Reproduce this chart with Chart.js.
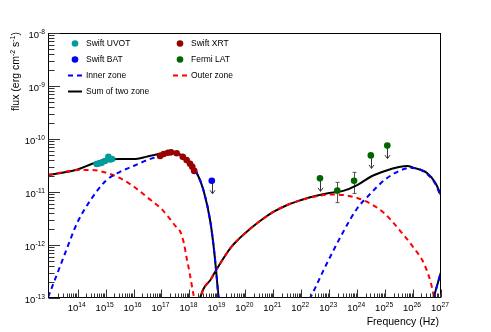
<!DOCTYPE html>
<html>
<head>
<meta charset="utf-8">
<script src="https://cdn.jsdelivr.net/npm/chart.js@4.4.0/dist/chart.umd.min.js"></script>
<style>
  html, body { margin: 0; padding: 0; background: #fff; }
</style>
</head>
<body>
<canvas id="sed" width="491" height="332"></canvas>
<script>
// axis ranges and tick labels
const xRange = [8.7e12, 1e27];
const yRange = [1e-13, 1e-8];
const xTickExps = [14, 15, 16, 17, 18, 19, 20, 21, 22, 23, 24, 25, 26, 27];
const yTickExps = [-13, -12, -11, -10, -9, -8];

// observed points
const uvotFreq = [4.8e14, 5.8e14, 7.2e14, 9.5e14, 1.26e15, 1.45e15, 1.7e15];
const uvotFlux = [3.37e-11, 3.45e-11, 3.55e-11, 3.85e-11, 4.63e-11, 4.1e-11, 4.2e-11];

const xrtFreq = [8.9e16, 1.2e17, 1.7e17, 2.2e17, 3.5e17, 5.75e17, 7.9e17, 1.05e18, 1.26e18, 1.48e18];
const xrtFlux = [4.8e-11, 5.2e-11, 5.5e-11, 5.6e-11, 5.4e-11, 4.6e-11, 4.0e-11, 3.4e-11, 3.0e-11, 2.5e-11];

const batFreq = [6.3e18];
const batFlux = [1.63e-11];
const batUL = [true];

const latFreq = [4.68e22, 1.95e23, 7.76e23, 3.09e24, 1.2e25];
const latFlux = [1.81e-11, 1.06e-11, 1.63e-11, 4.9e-11, 7.5e-11];
const latLo = [null, 6.3e-12, 9.4e-12, null, null];
const latHi = [null, 1.52e-11, 2.35e-11, null, null];
const latUL = [true, false, false, true, true];

// model curves
const innerSyncFreq = [8.71e12, 1e13, 3.16e13, 1e14, 3.16e14, 1e15, 3.16e15, 1e16, 3.16e16, 1e17, 1.78e17, 3.16e17, 5.62e17, 1e18, 1.78e18, 3.16e18, 5.62e18, 7.94e18, 1e19, 1.12e19];
const innerSyncFlux = [1.04e-13, 1.24e-13, 5.94e-13, 2.72e-12, 7.53e-12, 1.61e-11, 2.38e-11, 3.1e-11, 4.02e-11, 4.89e-11, 5.45e-11, 5.33e-11, 4.77e-11, 3.68e-11, 2.33e-11, 1.09e-11, 2.72e-12, 6.47e-13, 1.76e-13, 9e-14];
const innerICFreq = [2.0e22, 3.16e22, 6.31e22, 1e23, 3.16e23, 1e24, 3.16e24, 1e25, 3.16e25, 5.62e25, 1e26, 1.78e26, 3.16e26, 6.31e26, 1e27];
const innerICFlux = [9.6e-14, 1.55e-13, 3.37e-13, 5.5e-13, 1.76e-12, 4.89e-12, 9.57e-12, 1.72e-11, 2.49e-11, 2.78e-11, 2.84e-11, 2.66e-11, 2.19e-11, 1.42e-11, 8.05e-12];
const innerTailFreq = [5.4e26, 1e27];
const innerTailFlux = [1e-13, 3.1e-13];

const outerSyncFreq = [8.71e12, 3.16e13, 1e14, 3.16e14, 1e15, 3.16e15, 1e16, 3.16e16, 1e17, 1.78e17, 3.16e17, 4.57e17, 6.31e17, 7.94e17, 1e18, 1.26e18, 1.45e18, 1.6e18];
const outerSyncFlux = [2.09e-11, 2.38e-11, 2.6e-11, 2.6e-11, 2.33e-11, 1.84e-11, 1.27e-11, 7.87e-12, 4.78e-12, 3.37e-12, 2.28e-12, 1.84e-12, 1.09e-12, 5.69e-13, 3.1e-13, 1.55e-13, 1.0e-13, 6e-14];
const outerICFreq = [2.09e18, 3.16e18, 5.62e18, 1e19, 3.16e19, 1e20, 3.16e20, 1e21, 3.16e21, 1e22, 3.16e22, 1e23, 3.16e23, 1e24, 3.16e24, 1e25, 3.16e25, 1e26, 2.51e26, 5.01e26, 6.03e26];
const outerICFlux = [8e-14, 1.48e-13, 2.19e-13, 3.68e-13, 9.17e-13, 1.68e-12, 2.77e-12, 4.2e-12, 5.69e-12, 7.06e-12, 8.22e-12, 8.97e-12, 8.78e-12, 7.7e-12, 5.94e-12, 3.85e-12, 1.96e-12, 9.17e-13, 4.37e-13, 1.41e-13, 8e-14];

const sumSyncFreq = [8.71e12, 3.16e13, 1e14, 3.16e14, 1e15, 3.16e15, 1e16, 3.16e16, 1e17, 1.78e17, 3.16e17, 5.62e17, 1e18, 1.78e18, 3.16e18, 5.62e18, 7.94e18, 1e19, 1.12e19];
const sumSyncFlux = [2.09e-11, 2.33e-11, 2.66e-11, 3.37e-11, 4.1e-11, 4.2e-11, 4.2e-11, 4.68e-11, 5.32e-11, 5.61e-11, 5.45e-11, 4.89e-11, 3.76e-11, 2.38e-11, 1.09e-11, 2.72e-12, 6.47e-13, 1.76e-13, 9e-14];
const sumICFreq = [2.09e18, 3.16e18, 5.62e18, 1e19, 3.16e19, 1e20, 3.16e20, 1e21, 3.16e21, 1e22, 3.16e22, 1e23, 3.16e23, 1e24, 3.16e24, 1e25, 3.16e25, 6.31e25, 1e26, 3.16e26, 6.31e26, 1e27];
const sumICFlux = [8e-14, 1.48e-13, 2.19e-13, 3.68e-13, 9.17e-13, 1.68e-12, 2.77e-12, 4.2e-12, 5.69e-12, 7.06e-12, 8.4e-12, 9.57e-12, 1.05e-11, 1.35e-11, 1.96e-11, 2.49e-11, 2.96e-11, 3.1e-11, 2.88e-11, 2.28e-11, 1.48e-11, 8.78e-12];
const sumTailFreq = [5.4e26, 1e27];
const sumTailFlux = [1e-13, 3.1e-13];

const FONT = '"Liberation Sans", Arial, Helvetica, sans-serif';

// zip freq/flux into points; several branches are joined with a gap
const pts = (f, v) => f.map((x, i) => ({x: x, y: v[i]}));
const branches = (...parts) => {
  let out = [];
  parts.forEach((p, i) => {
    if (i > 0) out.push({x: p[0][0], y: null});
    out = out.concat(pts(p[0], p[1]));
  });
  return out;
};

const markerSet = (label, f, v, color) => ({
  label: label, data: pts(f, v), showLine: false,
  pointRadius: 3.3, pointHoverRadius: 3.3, pointBorderWidth: 0,
  backgroundColor: color, borderColor: color, clip: false
});
const curveSet = (label, data, color, dash) => ({
  label: label, data: data, showLine: true, spanGaps: false,
  pointRadius: 0, borderWidth: 2, borderColor: color, borderDash: dash,
  cubicInterpolationMode: 'monotone', clip: 0
});

const legendItems = [
  {text: 'Swift UVOT', kind: 'dot', color: '#009c9c', x: 75, y: 43.5},
  {text: 'Swift XRT', kind: 'dot', color: '#990000', x: 180, y: 43.5},
  {text: 'Swift BAT', kind: 'dot', color: '#0000ff', x: 75, y: 59.5},
  {text: 'Fermi LAT', kind: 'dot', color: '#006600', x: 180, y: 59.5},
  {text: 'Inner zone', kind: 'dash', color: '#0000ff', x: 75, y: 75.5},
  {text: 'Outer zone', kind: 'dash', color: '#ff0000', x: 180, y: 75.5},
  {text: 'Sum of two zone', kind: 'line', color: '#000000', x: 75, y: 91.5}
];

// text "10" with a raised exponent
function powText(ctx, exp, x, y, align, size) {
  ctx.font = size + 'px ' + FONT;
  const wb = ctx.measureText('10').width;
  const es = String(exp);
  ctx.font = (size * 0.7) + 'px ' + FONT;
  const we = ctx.measureText(es).width;
  const total = wb + we;
  let left = align === 'right' ? x - total : x - total / 2;
  ctx.textAlign = 'left';
  ctx.textBaseline = 'alphabetic';
  ctx.font = size + 'px ' + FONT;
  ctx.fillText('10', left, y);
  ctx.font = (size * 0.7) + 'px ' + FONT;
  ctx.fillText(es, left + wb, y - size * 0.42);
}

const rootStyle = {
  id: 'rootStyle',
  beforeDatasetsDraw(chart) {
    const {ctx, scales: {x, y}} = chart;
    ctx.save();
    // error bars
    ctx.strokeStyle = '#555';
    ctx.lineWidth = 1;
    latFreq.forEach((f, i) => {
      if (latLo[i] === null) return;
      const px = Math.round(x.getPixelForValue(f)) + 0.5;
      const y1 = y.getPixelForValue(latLo[i]), y2 = y.getPixelForValue(latHi[i]);
      ctx.beginPath();
      ctx.moveTo(px, y1); ctx.lineTo(px, y2);
      ctx.moveTo(px - 2, y1); ctx.lineTo(px + 2, y1);
      ctx.moveTo(px - 2, y2); ctx.lineTo(px + 2, y2);
      ctx.stroke();
    });
    // upper limit arrows
    const arrow = (f, v) => {
      const px = Math.round(x.getPixelForValue(f)) + 0.5;
      const py = y.getPixelForValue(v);
      ctx.beginPath();
      ctx.moveTo(px, py); ctx.lineTo(px, py + 13);
      ctx.moveTo(px - 2.5, py + 9.5); ctx.lineTo(px, py + 13); ctx.lineTo(px + 2.5, py + 9.5);
      ctx.stroke();
    };
    ctx.strokeStyle = '#333';
    latFreq.forEach((f, i) => { if (latUL[i]) arrow(f, latFlux[i]); });
    batFreq.forEach((f, i) => { if (batUL[i]) arrow(f, batFlux[i]); });
    ctx.restore();
  },
  afterDraw(chart) {
    const {ctx, chartArea: a, scales: {x, y}} = chart;
    const L = Math.round(a.left) + 0.5, R = Math.round(a.right) - 0.5;
    const T = Math.round(a.top) + 0.5, B = Math.round(a.bottom) - 0.5;
    ctx.save();
    ctx.strokeStyle = '#000';
    ctx.lineWidth = 1;
    ctx.strokeRect(L, T, R - L, B - T);

    // log ticks, pointing into the frame
    ctx.strokeStyle = '#333';
    ctx.beginPath();
    for (let d = 12; d <= 27; d++) {
      for (let m = 1; m <= 9; m++) {
        const v = m * Math.pow(10, d);
        if (v < xRange[0] || v > xRange[1]) continue;
        const px = Math.round(x.getPixelForValue(v)) + 0.5;
        if (px < L + 3) continue;
        const len = m === 1 ? 8 : 4;
        ctx.moveTo(px, B); ctx.lineTo(px, B - len);
      }
    }
    for (let d = -13; d <= -8; d++) {
      for (let m = 1; m <= 9; m++) {
        const v = m * Math.pow(10, d);
        if (v < yRange[0] * 0.999 || v > yRange[1] * 1.001) continue;
        const py = Math.round(y.getPixelForValue(v)) + 0.5;
        const len = m === 1 ? 11.5 : 6;
        ctx.moveTo(L, py); ctx.lineTo(L + len, py);
      }
    }
    ctx.stroke();

    // tick labels
    ctx.fillStyle = '#000';
    xTickExps.forEach(e => {
      powText(ctx, e, x.getPixelForValue(Math.pow(10, e)) - 1, 311, 'center', 9.5);
    });
    yTickExps.forEach(e => {
      powText(ctx, e, 45, y.getPixelForValue(Math.pow(10, e)) + 5, 'right', 9.5);
    });

    // axis titles
    ctx.font = '10.5px ' + FONT;
    ctx.textAlign = 'right';
    ctx.textBaseline = 'alphabetic';
    ctx.fillText('Frequency (Hz)', 439, 325);

    ctx.save();
    ctx.translate(19, 32);
    ctx.rotate(-Math.PI / 2);
    const parts = [['flux (erg cm', 10.5, 0], ['-2', 7, 4.5], [' s', 10.5, 0], ['-1', 7, 4.5], [')', 10.5, 0]];
    let w = 0;
    parts.forEach(p => { ctx.font = p[1] + 'px ' + FONT; w += ctx.measureText(p[0]).width; });
    let cx = -w;
    ctx.textAlign = 'left';
    parts.forEach(p => {
      ctx.font = p[1] + 'px ' + FONT;
      ctx.fillText(p[0], cx, -p[2]);
      cx += ctx.measureText(p[0]).width;
    });
    ctx.restore();

    // legend
    legendItems.forEach(it => {
      if (it.kind === 'dot') {
        ctx.fillStyle = it.color;
        ctx.beginPath();
        ctx.arc(it.x, it.y, 3.3, 0, Math.PI * 2);
        ctx.fill();
      } else {
        ctx.strokeStyle = it.color;
        ctx.lineWidth = 2;
        ctx.setLineDash(it.kind === 'dash' ? [5, 4] : []);
        ctx.beginPath();
        ctx.moveTo(it.x - 7, it.y); ctx.lineTo(it.x + 7, it.y);
        ctx.stroke();
        ctx.setLineDash([]);
      }
      ctx.fillStyle = '#000';
      ctx.font = '8.5px ' + FONT;
      ctx.textAlign = 'left';
      ctx.textBaseline = 'middle';
      ctx.fillText(it.text, it.x + 11, it.y + 0.5);
    });
    ctx.restore();
  }
};

new Chart(document.getElementById('sed').getContext('2d'), {
  type: 'scatter',
  data: {
    datasets: [
      markerSet('Swift UVOT', uvotFreq, uvotFlux, '#009c9c'),
      markerSet('Swift XRT', xrtFreq, xrtFlux, '#990000'),
      markerSet('Swift BAT', batFreq, batFlux, '#0000ff'),
      markerSet('Fermi LAT', latFreq, latFlux, '#006600'),
      curveSet('Inner zone', branches([innerSyncFreq, innerSyncFlux], [innerICFreq, innerICFlux], [innerTailFreq, innerTailFlux]), '#0000ff', [5, 4]),
      curveSet('Outer zone', branches([outerSyncFreq, outerSyncFlux], [outerICFreq, outerICFlux]), '#ff0000', [5, 4]),
      curveSet('Sum of two zone', branches([sumSyncFreq, sumSyncFlux], [sumICFreq, sumICFlux], [sumTailFreq, sumTailFlux]), '#000000', [])
    ]
  },
  options: {
    responsive: false,
    animation: false,
    devicePixelRatio: 1,
    layout: { padding: { left: 48, right: 50, top: 33, bottom: 34 } },
    scales: {
      x: { type: 'logarithmic', min: xRange[0], max: xRange[1], display: false },
      y: { type: 'logarithmic', min: yRange[0], max: yRange[1], display: false }
    },
    plugins: {
      legend: { display: false },
      tooltip: { enabled: false }
    }
  },
  plugins: [rootStyle]
});
</script>
</body>
</html>
